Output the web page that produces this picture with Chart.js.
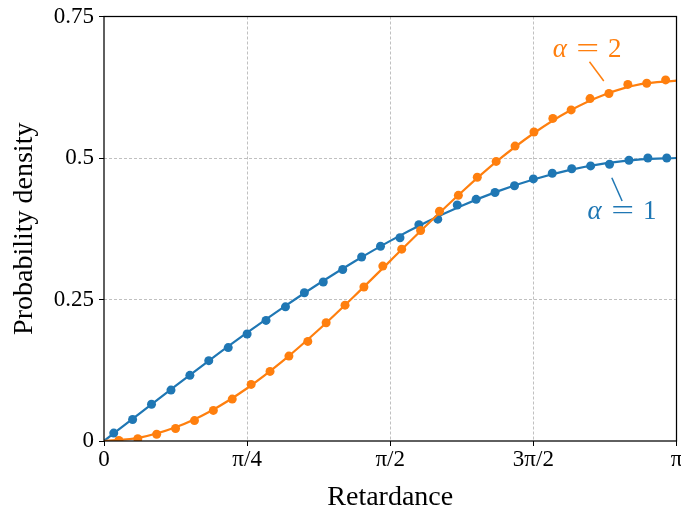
<!DOCTYPE html>
<html>
<head>
<meta charset="utf-8">
<script src="https://cdn.jsdelivr.net/npm/chart.js@4.4.1/dist/chart.umd.min.js"></script>
<style>
  body { margin: 0; background: #fff; }
  canvas { display: block; }
</style>
</head>
<body>
<canvas id="densityChart" width="681" height="510"></canvas>
<script>
// x values are in units of pi (0 .. 1 maps to 0 .. pi)
const xTickLabels = ['0', 'π/4', 'π/2', '3π/2', 'π'];
const yTickLabels = ['0', '0.25', '0.5', '0.75'];

// smooth density curves
const curveX = [0, 0.0625, 0.125, 0.1875, 0.25, 0.3125, 0.375, 0.4375, 0.5,
                0.5625, 0.625, 0.6875, 0.75, 0.8125, 0.875, 0.9375, 1];
const curveAlpha1 = [0, 0.049, 0.0975, 0.1451, 0.1913, 0.2357, 0.2778, 0.3172, 0.3536,
                     0.3865, 0.4157, 0.441, 0.4619, 0.4785, 0.4904, 0.4976, 0.5];
const curveAlpha2 = [0, 0.0061, 0.0242, 0.0536, 0.0932, 0.1415, 0.1965, 0.2562, 0.3183,
                     0.3804, 0.44, 0.4952, 0.5433, 0.583, 0.6123, 0.6305, 0.6366];

// sampled points
const sampleX1 = [0.017, 0.05, 0.083, 0.117, 0.15, 0.183, 0.217, 0.25, 0.283, 0.317,
                  0.35, 0.383, 0.417, 0.45, 0.483, 0.517, 0.55, 0.583, 0.617, 0.65,
                  0.683, 0.717, 0.75, 0.783, 0.817, 0.85, 0.883, 0.917, 0.95, 0.983];
const sampleY1 = [0.014, 0.038, 0.065, 0.09, 0.116, 0.142, 0.165, 0.189, 0.213, 0.237,
                  0.262, 0.281, 0.303, 0.325, 0.344, 0.359, 0.382, 0.392, 0.417, 0.427,
                  0.439, 0.451, 0.463, 0.473, 0.481, 0.486, 0.489, 0.496, 0.5, 0.5];
const sampleX2 = [0.026, 0.059, 0.092, 0.125, 0.158, 0.191, 0.224, 0.257, 0.29, 0.323,
                  0.356, 0.388, 0.421, 0.454, 0.487, 0.52, 0.553, 0.586, 0.619, 0.652,
                  0.685, 0.718, 0.751, 0.784, 0.816, 0.849, 0.882, 0.915, 0.948, 0.981];
const sampleY2 = [0.001, 0.004, 0.012, 0.022, 0.036, 0.054, 0.074, 0.1, 0.123, 0.15,
                  0.176, 0.209, 0.24, 0.272, 0.309, 0.339, 0.372, 0.406, 0.434, 0.466,
                  0.494, 0.521, 0.546, 0.57, 0.585, 0.605, 0.614, 0.63, 0.632, 0.638];

const BLUE = '#1f77b4';
const ORANGE = '#ff7f0e';
const FONT = "'Liberation Serif', 'Times New Roman', serif";

function toPoints(xs, ys) {
    return xs.map((x, i) => ({ x: x, y: ys[i] }));
}

// inline series labels with a short leader line
const curveLabels = [
    { parts: ['α', '=', '2'], color: ORANGE, at: [0.845, 0.679], lead: [[0.848, 0.670], [0.873, 0.636]] },
    { parts: ['α', '=', '1'], color: BLUE, at: [0.906, 0.392], lead: [[0.887, 0.465], [0.905, 0.424]] }
];

const labelPlugin = {
    id: 'curveLabels',
    afterDraw(chart) {
        const ctx = chart.ctx;
        const xs = chart.scales.x;
        const ys = chart.scales.y;
        const area = chart.chartArea;

        // frame around the plot area
        ctx.save();
        ctx.strokeStyle = '#000';
        ctx.lineWidth = 1.25;
        ctx.strokeRect(area.left, area.top, area.right - area.left, area.bottom - area.top);
        ctx.restore();

        curveLabels.forEach(lbl => {
            ctx.save();
            ctx.strokeStyle = lbl.color;
            ctx.fillStyle = lbl.color;
            ctx.lineWidth = 1.5;
            ctx.beginPath();
            ctx.moveTo(xs.getPixelForValue(lbl.lead[0][0]), ys.getPixelForValue(lbl.lead[0][1]));
            ctx.lineTo(xs.getPixelForValue(lbl.lead[1][0]), ys.getPixelForValue(lbl.lead[1][1]));
            ctx.stroke();

            const cx = xs.getPixelForValue(lbl.at[0]);
            const cy = ys.getPixelForValue(lbl.at[1]);
            ctx.textAlign = 'center';
            ctx.textBaseline = 'alphabetic';
            ctx.font = 'italic 27px ' + FONT;
            ctx.fillText(lbl.parts[0], cx - 28, cy);
            ctx.font = '27px ' + FONT;
            // the equals sign is drawn a bit wider, like a math-mode relation
            ctx.save();
            ctx.translate(cx, cy);
            ctx.scale(1.5, 1);
            ctx.fillText(lbl.parts[1], 0, 0);
            ctx.restore();
            ctx.fillText(lbl.parts[2], cx + 27, cy);
            ctx.restore();
        });
    }
};

const edgeless = (max) => (c) => (c.tick.value === 0 || c.tick.value === max) ? 'rgba(0,0,0,0)' : '#b0b0b0';

new Chart(document.getElementById('densityChart').getContext('2d'), {
    type: 'scatter',
    data: {
        datasets: [
            {
                data: toPoints(sampleX2, sampleY2),
                backgroundColor: ORANGE,
                borderColor: ORANGE,
                pointRadius: 4.5,
                pointBorderWidth: 0,
                showLine: false,
                order: 0
            },
            {
                data: toPoints(curveX, curveAlpha2),
                borderColor: ORANGE,
                borderWidth: 2.2,
                pointRadius: 0,
                showLine: true,
                cubicInterpolationMode: 'monotone',
                order: 1
            },
            {
                data: toPoints(sampleX1, sampleY1),
                backgroundColor: BLUE,
                borderColor: BLUE,
                pointRadius: 4.5,
                pointBorderWidth: 0,
                showLine: false,
                order: 2
            },
            {
                data: toPoints(curveX, curveAlpha1),
                borderColor: BLUE,
                borderWidth: 2.2,
                pointRadius: 0,
                showLine: true,
                cubicInterpolationMode: 'monotone',
                order: 3
            }
        ]
    },
    options: {
        responsive: false,
        animation: false,
        layout: { padding: { left: 0, right: 4, top: 16, bottom: 0 } },
        plugins: {
            legend: { display: false },
            tooltip: { enabled: false }
        },
        scales: {
            x: {
                type: 'linear',
                min: 0,
                max: 1,
                afterFit: (scale) => { scale.height = 69; scale.paddingRight = 0; },
                ticks: {
                    stepSize: 0.25,
                    color: '#000',
                    padding: 2,
                    font: { family: FONT, size: 23, lineHeight: 1 },
                    callback: (value, index) => xTickLabels[index]
                },
                grid: {
                    color: edgeless(1),
                    lineWidth: 0.8,
                    tickColor: '#000',
                    tickLength: 5,
                    tickWidth: 1,
                    tickBorderDash: []
                },
                border: { display: false, dash: [3, 2] },
                title: {
                    display: true,
                    text: 'Retardance',
                    color: '#000',
                    padding: { top: 0, bottom: -2 },
                    font: { family: FONT, size: 28, lineHeight: 1 }
                }
            },
            y: {
                type: 'linear',
                min: 0,
                max: 0.75,
                afterFit: (scale) => { scale.width = 104; },
                ticks: {
                    stepSize: 0.25,
                    color: '#000',
                    padding: 5,
                    font: { family: FONT, size: 23, lineHeight: 1 },
                    callback: (value, index) => yTickLabels[index]
                },
                grid: {
                    color: edgeless(0.75),
                    lineWidth: 0.8,
                    tickColor: '#000',
                    tickLength: 5,
                    tickWidth: 1,
                    tickBorderDash: []
                },
                border: { display: false, dash: [3, 2] },
                title: {
                    display: true,
                    text: 'Probability density',
                    color: '#000',
                    padding: { top: 11, bottom: 0 },
                    font: { family: FONT, size: 28, lineHeight: 1 }
                }
            }
        }
    },
    plugins: [labelPlugin]
});
</script>
</body>
</html>
